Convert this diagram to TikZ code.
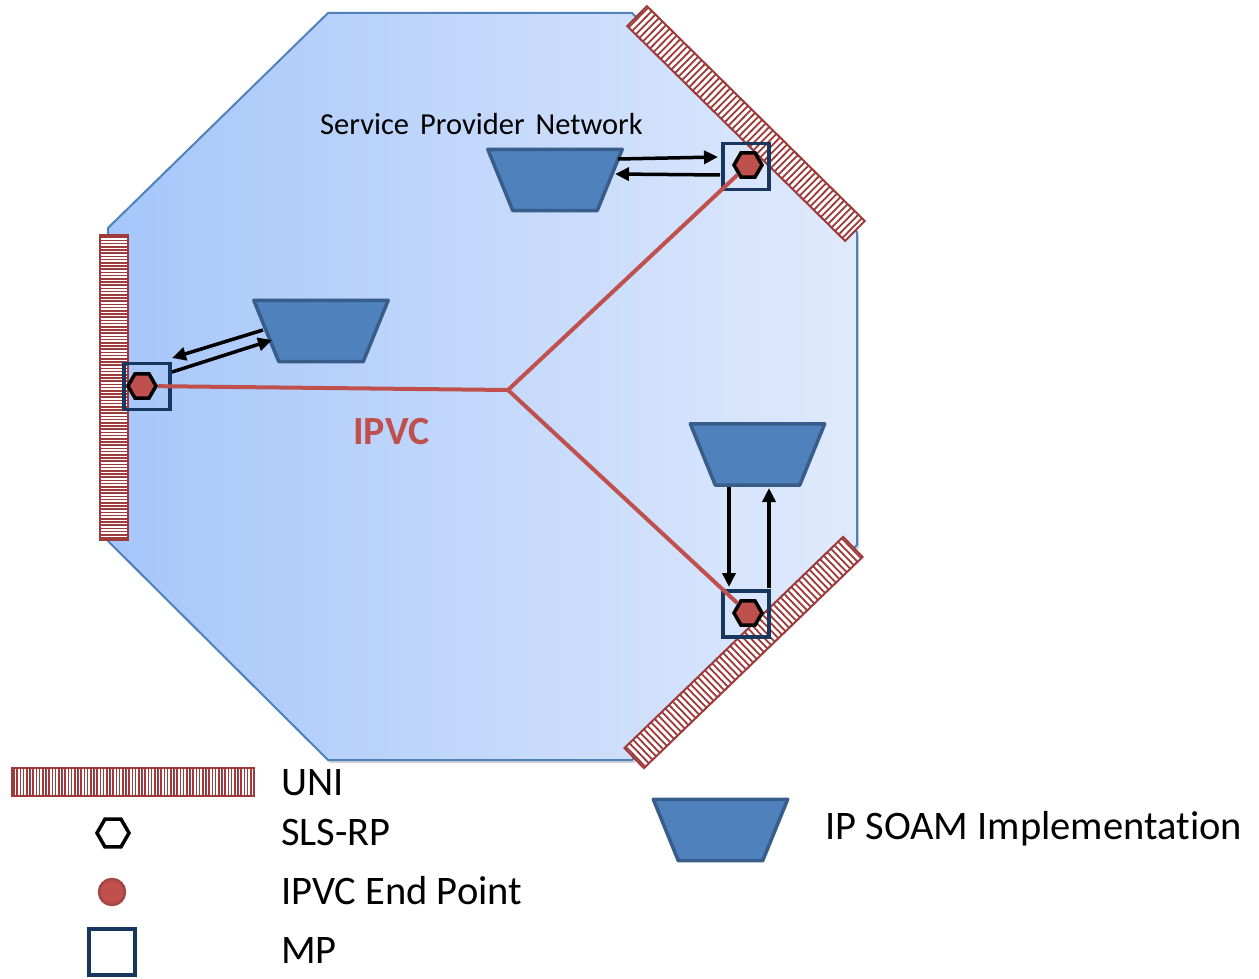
\documentclass[tikz,border=0pt]{standalone}
\usepackage{fontspec}
\setmainfont{Carlito}[Ligatures=NoCommon]
\usetikzlibrary{arrows.meta,shapes.geometric,calc}

\definecolor{unired}{HTML}{9E3A3A}
\definecolor{ipvcred}{HTML}{C0504D}
\definecolor{soamfill}{HTML}{4F81BD}
\definecolor{soamline}{HTML}{385D8A}
\definecolor{mpblue}{HTML}{17375E}
\definecolor{netleft}{HTML}{A6C6FA}
\definecolor{netright}{HTML}{E0EAFC}
\definecolor{netline}{HTML}{4F81BD}

% striped UNI bar: centre x, centre y, angle, length, stripe period, stripe width
\newcommand\unibar[6]{%
  \begin{scope}[shift={(#1,#2)}, rotate=#3]
    \pgfmathsetmacro\ubhalf{#4/2}
    \pgfmathtruncatemacro\ubn{(#4-3)/#5}
    \fill[white] (-\ubhalf,-14) rectangle (\ubhalf,14);
    \foreach \k in {0,...,\ubn}{
      \pgfmathsetmacro\ubs{-\ubhalf+2+\k*#5}
      \draw[unired, line width=#6pt] (\ubs,-14) -- (\ubs,14);
    }
    \draw[unired, line width=2pt] (-\ubhalf,-14) rectangle (\ubhalf,14);
  \end{scope}}

% inverted trapezoid drawn over the frame of a named node
\newcommand\soamshape[1]{%
  \draw[soamdraw] (#1.north west) -- (#1.north east)
    -- ([xshift=-25pt]#1.south east) -- ([xshift=25pt]#1.south west) -- cycle;}

\tikzset{
  mpbox/.style={draw=mpblue, line width=3.8pt, minimum size=46pt, inner sep=0pt},
  slsrp/.style={regular polygon, regular polygon sides=6, draw=black,
    line width=3.5pt, minimum size=28pt, inner sep=0pt, fill=ipvcred},
  soam/.style={rectangle, minimum width=134pt, minimum height=61pt, inner sep=0pt},
  soamdraw/.style={fill=soamfill, draw=soamline, line width=3.5pt, line join=round},
  flow/.style={line width=3.5pt, -{Triangle[length=14pt,width=13pt]}},
  ipvc/.style={draw=ipvcred, line width=4pt},
  legend/.style={anchor=base west, font=\fontsize{40.5}{44}\selectfont, inner sep=0pt},
}

\begin{document}
\begin{tikzpicture}[x=1pt, y=-1pt]
\useasboundingbox (0,0) rectangle (1259,979);

% provider network octagon with a soft shadow
\fill[black, opacity=0.18] ([shift={(2,3)}]328,13) -- ++(304,0) -- ++(225,219) -- ++(0,313)
  -- ++(-225,215) -- ++(-304,0) -- ++(-220,-219) -- ++(0,-313) -- cycle;
\draw[netline, line width=2pt, left color=netleft, right color=netright]
  (328,13) -- (632,13) -- (857,232) -- (857,545) -- (632,760) -- (328,760)
  -- (108,541) -- (108,228) -- cycle;

\node[anchor=base west, inner sep=0pt, font=\fontsize{30.5}{34}\selectfont,
  execute at begin node={\spaceskip=0.36em plus 0.1em\relax}] (spn)
  at (320,135) {Service Provider Network};

% UNIs
\unibar{114}{387.5}{90}{305}{3.2}{1.5}
\unibar{746}{123.5}{-44.6}{306}{5}{1.8}
\unibar{743.5}{652.5}{44}{304}{5}{1.8}

% IP SOAM implementations
\node[soam] (soamT) at (555,180) {};
\node[soam] (soamL) at (321,331) {};
\node[soam] (soamR) at (757.5,454.5) {};
\soamshape{soamT}
\soamshape{soamL}
\soamshape{soamR}

% SLS reference points / IPVC end points
\node[slsrp] (hexL) at (142,386) {};
\node[slsrp] (hexT) at (748,165) {};
\node[slsrp] (hexR) at (748,613) {};

% measurement points
\node[mpbox] (mpL) at (147,386.5) {};
\node[mpbox] (mpT) at (746,166.5) {};
\node[mpbox] (mpR) at (746,614) {};

% the IPVC
\coordinate (hub) at (508,390);
\draw[ipvc] (hexL) -- (hub) -- (hexT);
\draw[ipvc] (hub) -- (hexR);
\node[anchor=base west, inner sep=0pt, text=ipvcred,
  font=\fontsize{40}{44}\selectfont\bfseries] (ipvclbl) at (353,444) {IPVC};

% SOAM exchanges between the MPs and the implementations
\coordinate (aL1) at (263,330);  \coordinate (bL1) at (172,358);
\coordinate (aL2) at (172,372);  \coordinate (bL2) at (272,340);
\draw[flow] (aL1) -- (bL1);
\draw[flow] (aL2) -- (bL2);
\coordinate (aT1) at (618,159);  \coordinate (bT1) at (718,157);
\coordinate (aT2) at (720,175);  \coordinate (bT2) at (615,174);
\draw[flow] (aT1) -- (bT1);
\draw[flow] (aT2) -- (bT2);
\coordinate (aR1) at (729,487);  \coordinate (bR1) at (729,587);
\coordinate (aR2) at (769,588);  \coordinate (bR2) at (769,488);
\draw[flow] (aR1) -- (bR1);
\draw[flow] (aR2) -- (bR2);

% legend
\unibar{133}{781.5}{0}{242}{3.2}{1.5}
\node[legend] (lgUNI) at (281,795) {UNI};
\node[slsrp, fill=white, minimum size=32pt] (lgHex) at (113,833) {};
\node[legend] (lgSLS) at (281,845) {SLS-RP};
\node[circle, fill=ipvcred, draw=ipvcred!85!black, line width=2.5pt,
  minimum size=26pt, inner sep=0pt] (lgEP) at (112,892) {};
\node[legend] (lgEPt) at (281,904) {IPVC End Point};
\node[mpbox] (lgMP) at (112,952) {};
\node[legend] (lgMPt) at (281,963) {MP};
\node[soam] (lgSoam) at (720.5,830) {};
\soamshape{lgSoam}
\node[legend] (lgSoamt) at (825,839) {IP SOAM Implementation};
\end{tikzpicture}
\end{document}
